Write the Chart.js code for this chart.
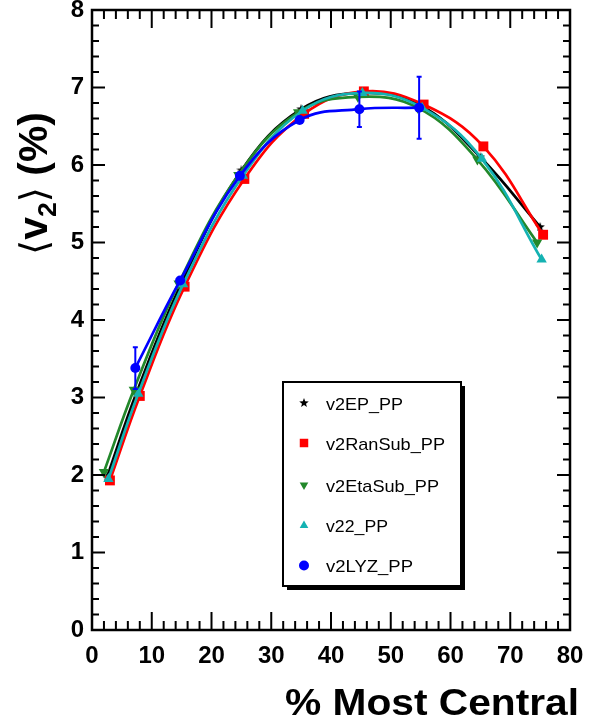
<!DOCTYPE html>
<html>
<head>
<meta charset="utf-8">
<script src="https://cdn.jsdelivr.net/npm/chart.js@4.4.1/dist/chart.umd.min.js"></script>
<style>
  html, body { margin: 0; padding: 0; background: #fff; }
  #wrap { width: 595px; height: 723px; }
</style>
</head>
<body>
<div id="wrap"><canvas id="grafico" width="595" height="723"></canvas></div>
<script>
// Centralidad (eje X) por serie: cada serie esta un poco desplazada
const centEP     = [2.5, 7.5, 15, 25, 35, 45, 55, 65, 75];
const centRanSub = [3, 8, 15.5, 25.5, 35.5, 45.5, 55.5, 65.5, 75.5];
const centEtaSub = [2, 7, 14.5, 24.5, 34.5, 44.5, 54.5, 64.5, 74.5];
const cent22     = [2.75, 7.75, 15.25, 25.25, 35.25, 45.25, 55.25, 65.25, 75.25];
const centLYZ    = [7.25, 14.75, 24.75, 34.75, 44.75, 54.75];

// <v2> (%) por metodo
const v2EP     = [1.97, 3.07, 4.48, 5.93, 6.72, 6.93, 6.77, 6.10, 5.20];
const v2RanSub = [1.93, 3.02, 4.43, 5.82, 6.66, 6.95, 6.78, 6.24, 5.10];
const v2EtaSub = [2.04, 3.10, 4.47, 5.87, 6.68, 6.88, 6.74, 6.07, 5.00];
const v222     = [1.95, 3.05, 4.46, 5.86, 6.70, 6.93, 6.74, 6.08, 4.78];
const v2LYZ    = [3.38, 4.51, 5.86, 6.58, 6.72, 6.74];
const errLYZ   = [0.27, 0.03, 0.03, 0.03, 0.23, 0.40];

const xTickValues = [0, 10, 20, 30, 40, 50, 60, 70, 80];
const yTickValues = [0, 1, 2, 3, 4, 5, 6, 7, 8];

const FONT = '"Liberation Sans", Arial, Helvetica, sans-serif';

// Estrella rellena (marcador de v2EP)
function crearEstrella(size, color) {
  const c = document.createElement('canvas');
  c.width = c.height = size;
  const g = c.getContext('2d');
  g.fillStyle = color;
  g.beginPath();
  const R = size / 2, r = R * 0.42;
  for (let i = 0; i < 10; i++) {
    const a = -Math.PI / 2 + i * Math.PI / 5;
    const rr = i % 2 ? r : R;
    g.lineTo(R + rr * Math.cos(a), R + rr * Math.sin(a));
  }
  g.closePath();
  g.fill();
  return c;
}
const estrella = crearEstrella(10, '#000');

const pares = (xs, ys) => xs.map((x, i) => ({ x: x, y: ys[i] }));

function serie(label, xs, ys, color, style, radius, rotation, order) {
  return {
    label: label,
    data: pares(xs, ys),
    borderColor: color,
    backgroundColor: color,
    borderWidth: 2.7,
    pointStyle: style,
    pointRadius: radius,
    pointRotation: rotation,
    pointBorderWidth: 0,
    pointBackgroundColor: color,
    tension: 0.4,
    fill: false,
    order: order
  };
}

const datasets = [
  serie('v2EP_PP', centEP, v2EP, '#000000', estrella, 5, 0, 5),
  serie('v2RanSub_PP', centRanSub, v2RanSub, '#ff0000', 'rect', 7, 0, 4),
  serie('v2EtaSub_PP', centEtaSub, v2EtaSub, '#22882a', 'triangle', 6, 180, 3),
  serie('v22_PP', cent22, v222, '#14b2b2', 'triangle', 6, 0, 2),
  serie('v2LYZ_PP', centLYZ, v2LYZ, '#0000ff', 'circle', 5, 0, 1)
];

// Texto con escala horizontal para imitar la tipografia de ROOT
function textoEscalado(ctx, txt, x, y, font, targetW, align) {
  ctx.save();
  ctx.font = font;
  const w = ctx.measureText(txt).width;
  const s = targetW / w;
  const x0 = align === 'right' ? x - targetW : x;
  ctx.translate(x0, y);
  ctx.scale(s, 1);
  ctx.textAlign = 'left';
  ctx.textBaseline = 'alphabetic';
  ctx.fillText(txt, 0, 0);
  ctx.restore();
}

const marcoPlugin = {
  id: 'marcoRoot',
  beforeDraw(chart) {
    const ctx = chart.ctx;
    ctx.save();
    ctx.fillStyle = '#fff';
    ctx.fillRect(0, 0, chart.width, chart.height);
    ctx.restore();
  },
  afterDatasetsDraw(chart) {
    // barras de error de v2LYZ
    const ctx = chart.ctx;
    const xs = chart.scales.x, ys = chart.scales.y;
    ctx.save();
    ctx.strokeStyle = '#0000ff';
    ctx.lineWidth = 2;
    centLYZ.forEach((c, i) => {
      if (errLYZ[i] < 0.1) return;
      const px = xs.getPixelForValue(c);
      const y1 = ys.getPixelForValue(v2LYZ[i] + errLYZ[i]);
      const y2 = ys.getPixelForValue(v2LYZ[i] - errLYZ[i]);
      ctx.beginPath();
      ctx.moveTo(px, y1); ctx.lineTo(px, y2);
      ctx.moveTo(px - 2.5, y1); ctx.lineTo(px + 2.5, y1);
      ctx.moveTo(px - 2.5, y2); ctx.lineTo(px + 2.5, y2);
      ctx.stroke();
    });
    ctx.restore();
  },
  afterDraw(chart) {
    const ctx = chart.ctx;
    const a = chart.chartArea;
    const xs = chart.scales.x, ys = chart.scales.y;
    ctx.save();
    ctx.strokeStyle = '#000';
    ctx.lineWidth = 2.5;
    ctx.strokeRect(a.left, a.top, a.right - a.left, a.bottom - a.top);

    // marcas hacia dentro en los cuatro lados
    ctx.lineWidth = 2;
    ctx.beginPath();
    for (let i = 0; i <= 40; i++) {
      const v = i * 2;
      const px = xs.getPixelForValue(v);
      const len = v % 10 === 0 ? 18 : 9;
      ctx.moveTo(px, a.bottom); ctx.lineTo(px, a.bottom - len);
      ctx.moveTo(px, a.top); ctx.lineTo(px, a.top + len);
    }
    for (let i = 0; i <= 40; i++) {
      const v = i * 0.2;
      const py = ys.getPixelForValue(v);
      const len = i % 5 === 0 ? 13 : 7;
      ctx.moveTo(a.left, py); ctx.lineTo(a.left + len, py);
      ctx.moveTo(a.right, py); ctx.lineTo(a.right - len, py);
    }
    ctx.stroke();

    // titulo eje X
    ctx.fillStyle = '#000';
    textoEscalado(ctx, '% Most Central', 579, 715, 'bold 36px ' + FONT, 294, 'right');

    // titulo eje Y: <v2> (%), rotado
    ctx.save();
    ctx.translate(0, 183.5);
    ctx.rotate(-Math.PI / 2);
    const piezas = [
      { t: '\u27E8', f: '38px "DejaVu Sans"', dy: 0 },
      { t: 'v', f: 'bold 40px ' + FONT, dy: 0 },
      { t: '2', f: 'bold 26px ' + FONT, dy: 9 },
      { t: '\u27E9', f: '38px "DejaVu Sans"', dy: 0 },
      { t: ' (%)', f: 'bold 40px ' + FONT, dy: 0 }
    ];
    let total = 0;
    piezas.forEach(p => { ctx.font = p.f; p.w = ctx.measureText(p.t).width; total += p.w; });
    const largo = 143;
    const s = largo / total;
    let u = -largo / 2;
    ctx.textBaseline = 'alphabetic';
    ctx.textAlign = 'left';
    piezas.forEach(p => {
      ctx.save();
      ctx.font = p.f;
      ctx.translate(u, 47 + p.dy);
      ctx.scale(s, 1);
      ctx.fillText(p.t, 0, 0);
      ctx.restore();
      u += p.w * s;
    });
    ctx.restore();

    // leyenda con sombra
    const L = { x: 283, y: 382, w: 178, h: 204 };
    ctx.fillStyle = '#000';
    ctx.fillRect(L.x + 4, L.y + 4, L.w, L.h);
    ctx.fillStyle = '#fff';
    ctx.fillRect(L.x, L.y, L.w, L.h);
    ctx.strokeStyle = '#000';
    ctx.lineWidth = 2;
    ctx.strokeRect(L.x, L.y, L.w, L.h);
    const filas = [403, 443, 485, 525.5, 565.5];
    const anchos = [77, 119, 113, 62, 87];
    chart.data.datasets.forEach((ds, i) => {
      const fy = filas[i];
      ctx.fillStyle = ds.backgroundColor;
      ctx.strokeStyle = ds.borderColor;
      Chart.helpers.drawPoint(ctx, {
        pointStyle: ds.pointStyle,
        radius: ds.pointStyle === estrella ? 4 : (ds.pointStyle === 'rect' ? 6 : 5),
        rotation: ds.pointRotation,
        borderWidth: 0
      }, 304, fy);
      ctx.fillStyle = '#000';
      textoEscalado(ctx, ds.label, 326, fy + 6.5, '17px ' + FONT, anchos[i], 'left');
    });
    ctx.restore();
  }
};

new Chart(document.getElementById('grafico'), {
  type: 'line',
  data: { datasets: datasets },
  options: {
    responsive: false,
    animation: false,
    layout: { padding: { top: 10, right: 25, left: 0, bottom: 0 } },
    plugins: {
      legend: { display: false },
      tooltip: { enabled: false }
    },
    scales: {
      x: {
        type: 'linear',
        min: 0,
        max: 80,
        afterBuildTicks(scale) { scale.ticks = xTickValues.map(v => ({ value: v })); },
        afterFit(scale) { scale.height = 93; scale.paddingLeft = 0; scale.paddingRight = 0; },
        grid: { display: false, drawTicks: false },
        border: { display: false },
        ticks: {
          padding: 12,
          maxRotation: 0,
          autoSkip: false,
          color: '#000',
          font: { family: FONT, size: 24, weight: 'bold' }
        }
      },
      y: {
        type: 'linear',
        min: 0,
        max: 8,
        afterBuildTicks(scale) { scale.ticks = yTickValues.map(v => ({ value: v })); },
        afterFit(scale) { scale.width = 92; scale.paddingTop = 0; scale.paddingBottom = 0; },
        grid: { display: false, drawTicks: false },
        border: { display: false },
        ticks: {
          padding: 8,
          autoSkip: false,
          color: '#000',
          font: { family: FONT, size: 24, weight: 'bold' }
        }
      }
    }
  },
  plugins: [marcoPlugin]
});
</script>
</body>
</html>
